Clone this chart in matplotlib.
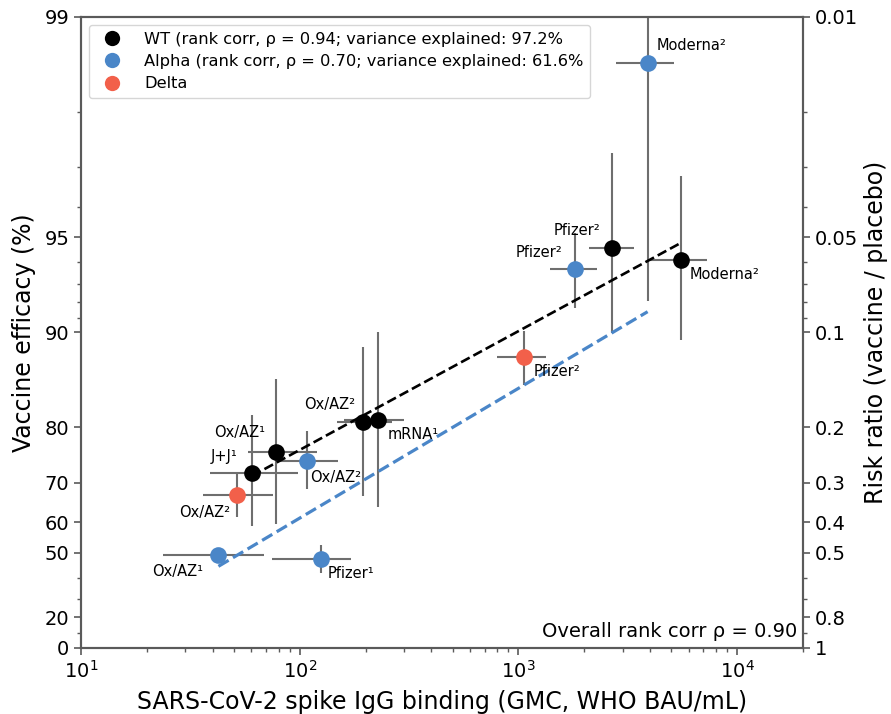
import matplotlib
matplotlib.use("Agg")
import matplotlib.pyplot as plt
from matplotlib.lines import Line2D
from matplotlib.ticker import FixedLocator, FixedFormatter, NullFormatter, LogLocator

# ---------------- data ----------------
wt_names = ['J+J¹', 'Ox/AZ¹', 'Ox/AZ²', 'mRNA¹', 'Pfizer²', 'Moderna²']
wt_x = [60.6, 77.8, 195, 229, 2677, 5540]
wt_x_lo = [38.9, 57.9, 148, 160, 2094, 3984]
wt_x_hi = [98.6, 120.5, 265, 300, 3366, 7280]
wt_rr = [0.279, 0.239, 0.193, 0.190, 0.054, 0.0589]
wt_rr_lo = [0.1826, 0.1405, 0.111, 0.100, 0.027, 0.032]
wt_rr_hi = [0.412, 0.405, 0.330, 0.358, 0.1006, 0.106]

alpha_names = ['Moderna²', 'Pfizer²', 'Ox/AZ²', 'Ox/AZ¹', 'Pfizer¹']
alpha_x = [3896, 1806, 108, 42.5, 125]
alpha_x_lo = [2800, 1387, 78.5, 23.6, 74.5]
alpha_x_hi = [5120, 2285, 150, 68.7, 171]
alpha_rr = [0.01396, 0.063, 0.255, 0.510, 0.524]
alpha_rr_lo = [0.002, 0.0484, 0.206, 0.50, 0.472]
alpha_rr_hi = [0.0797, 0.0837, 0.314, 0.52, 0.579]

delta_names = ['Ox/AZ²', 'Pfizer²']
delta_x = [51.9, 1063]
delta_x_lo = [36.3, 798]
delta_x_hi = [75.3, 1340]
delta_rr = [0.329, 0.12]
delta_rr_lo = [0.278, 0.0987]
delta_rr_hi = [0.384, 0.1466]

wt_fit_x = [60.6, 5540]
wt_fit_rr = [0.285, 0.052]
alpha_fit_x = [42.5, 3896]
alpha_fit_rr = [0.552, 0.086]

rr_ticks = [0.01, 0.05, 0.1, 0.2, 0.3, 0.4, 0.5, 0.8, 1]
eff_labels = ['99', '95', '90', '80', '70', '60', '50', '20', '0']
rr_labels = ['0.01', '0.05', '0.1', '0.2', '0.3', '0.4', '0.5', '0.8', '1']

legend_labels = ['WT (rank corr, ρ = 0.94; variance explained: 97.2%',
                 'Alpha (rank corr, ρ = 0.70; variance explained: 61.6%',
                 'Delta']

# label offsets (pixels: dx, dy-up, ha)
wt_off = [(-15, 16, 'right'), (-11, 19, 'right'), (-8, 18, 'right'),
          (9, -14, 'left'), (-12, 17, 'right'), (9, -15, 'left')]
alpha_off = [(9, 17, 'left'), (-12, 17, 'right'), (3, -17, 'left'),
             (-15, -16, 'right'), (7, -14, 'left')]
delta_off = [(-7, -17, 'right'), (9, -14, 'left')]

# ---------------- style ----------------
C_WT = 'black'
C_AL = '#4a86c8'
C_DE = '#f2604a'
C_ERR = '#6e6e6e'
C_SP = '#5a5a5a'

fig = plt.figure(figsize=(8.91, 7.14), dpi=100)
ax = fig.add_axes([81/891, 1-647.7/714, (803-81)/891, (647.7-17)/714])

ax.set_xscale('log')
ax.set_yscale('log')


def draw(xs, xlo, xhi, rr, rlo, rhi, names, offs, color):
    xerr = [[x - l for x, l in zip(xs, xlo)], [h - x for x, h in zip(xs, xhi)]]
    yerr = [[r - l for r, l in zip(rr, rlo)], [h - r for r, h in zip(rr, rhi)]]
    ax.errorbar(xs, rr, xerr=xerr, yerr=yerr, fmt='none', ecolor=C_ERR,
                elinewidth=1.5, capsize=0, zorder=2)
    ax.plot(xs, rr, 'o', color=color, ms=12, zorder=5, mec='none')
    for x, r, n, (dx, dy, ha) in zip(xs, rr, names, offs):
        ax.annotate(n, (x, r), xytext=(dx*0.72, dy*0.72), textcoords='offset points',
                    ha=ha, va='center', fontsize=10.5, zorder=6)


draw(wt_x, wt_x_lo, wt_x_hi, wt_rr, wt_rr_lo, wt_rr_hi, wt_names, wt_off, C_WT)
draw(alpha_x, alpha_x_lo, alpha_x_hi, alpha_rr, alpha_rr_lo, alpha_rr_hi, alpha_names, alpha_off, C_AL)
draw(delta_x, delta_x_lo, delta_x_hi, delta_rr, delta_rr_lo, delta_rr_hi, delta_names, delta_off, C_DE)

ax.plot(wt_fit_x, wt_fit_rr, '--', color=C_WT, lw=1.9, zorder=3)
ax.plot(alpha_fit_x, alpha_fit_rr, '--', color=C_AL, lw=2.3, zorder=3)

ax.set_xlim(10, 2e4)
ax.set_ylim(1, 0.01)

ax.yaxis.set_major_locator(FixedLocator(rr_ticks))
ax.yaxis.set_major_formatter(FixedFormatter(eff_labels))
ax.yaxis.set_minor_locator(LogLocator(base=10, subs=range(2, 10), numticks=20))
ax.yaxis.set_minor_formatter(NullFormatter())

ax2 = ax.twinx()
ax2.set_yscale('log')
ax2.set_ylim(1, 0.01)
ax2.yaxis.set_major_locator(FixedLocator(rr_ticks))
ax2.yaxis.set_major_formatter(FixedFormatter(rr_labels))
ax2.yaxis.set_minor_locator(LogLocator(base=10, subs=range(2, 10), numticks=20))
ax2.yaxis.set_minor_formatter(NullFormatter())

for a in (ax, ax2):
    for s in a.spines.values():
        s.set_color(C_SP)
        s.set_linewidth(1.5)
    a.tick_params(which='both', color=C_SP, labelsize=14, direction='out')
    a.tick_params(which='major', length=5, width=1.2)
    a.tick_params(which='minor', length=3, width=1.0)

ax.set_xlabel('SARS-CoV-2 spike IgG binding (GMC, WHO BAU/mL)', fontsize=17, labelpad=6)
ax.set_ylabel('Vaccine efficacy (%)', fontsize=17, labelpad=6)
ax2.set_ylabel('Risk ratio (vaccine / placebo)', fontsize=17, labelpad=4)

ax.text(0.9917, 0.01, 'Overall rank corr ρ = 0.90', transform=ax.transAxes,
        ha='right', va='bottom', fontsize=14)

handles = [Line2D([], [], marker='o', ls='none', color=c, ms=11, mec='none')
           for c in (C_WT, C_AL, C_DE)]
ax2.legend(handles, legend_labels, loc='upper left', fontsize=11.7,
           handletextpad=1.0, borderaxespad=0.5, labelspacing=0.45)

fig.savefig('out.png', dpi=100)
